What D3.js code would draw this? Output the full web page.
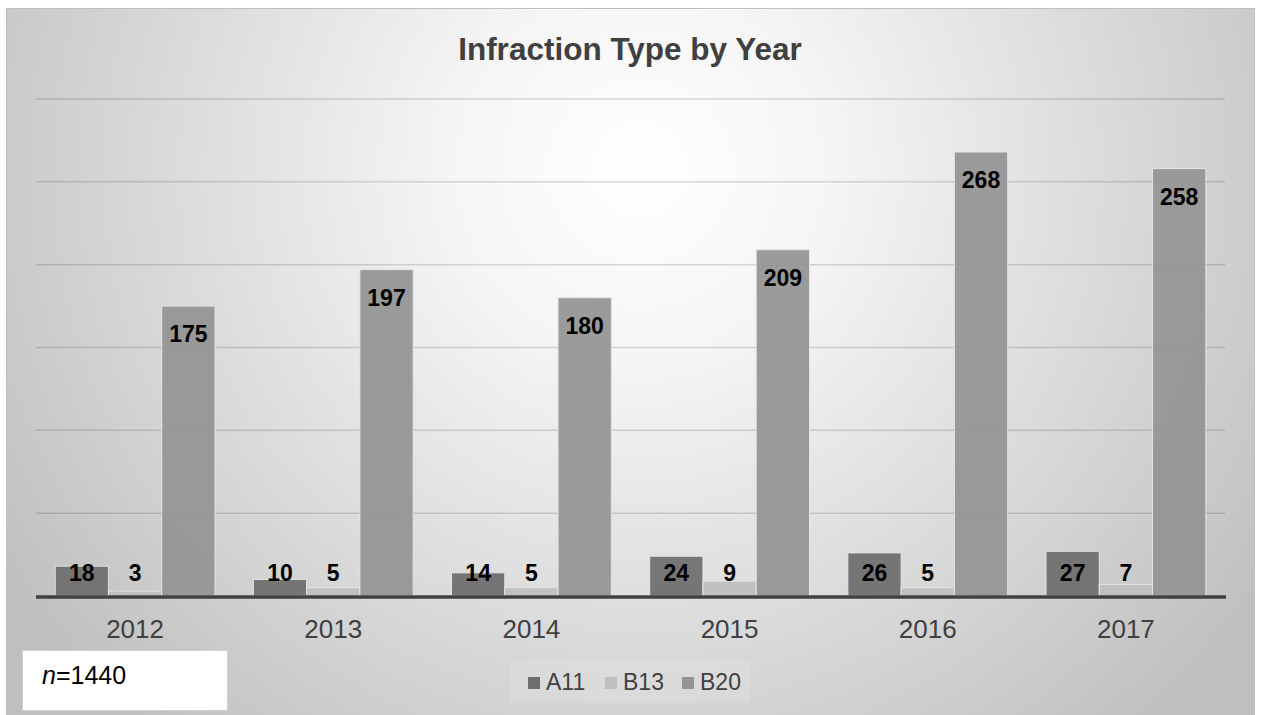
<!DOCTYPE html>
<html>
<head>
<meta charset="utf-8">
<script src="https://cdn.jsdelivr.net/npm/d3@7"></script>
<style>
  body { margin: 0; background: #fff; }
  svg { display: block; font-family: Arial, "Liberation Sans", sans-serif; }
</style>
</head>
<body>
<div id="chartContainer"></div>
<script>
var years = ['2012', '2013', '2014', '2015', '2016', '2017'];
var seriesNames = ['A11', 'B13', 'B20'];
var a11 = [18, 10, 14, 24, 26, 27];
var b13 = [3, 5, 5, 9, 5, 7];
var b20 = [175, 197, 180, 209, 268, 258];
var gridTicks = [50, 100, 150, 200, 250, 300];
var colors = { A11: '#6f6f6f', B13: '#bfbfbf', B20: '#959595' };

var width = 1261;
var height = 715;

var rows = years.map(function (y, i) {
  return { year: y, A11: a11[i], B13: b13[i], B20: b20[i] };
});

var svg = d3.select('#chartContainer').
append('svg').
attr('width', width).
attr('height', height);

// background gradient
var defs = svg.append('defs');
var grad = defs.append('radialGradient').
attr('id', 'bg').
attr('gradientUnits', 'userSpaceOnUse').
attr('cx', 640).attr('cy', 170).attr('r', 760);
grad.append('stop').attr('offset', '0%').attr('stop-color', '#ffffff');
grad.append('stop').attr('offset', '25%').attr('stop-color', '#f5f5f5');
grad.append('stop').attr('offset', '100%').attr('stop-color', '#bfbfbf');

svg.append('rect').
attr('x', 6.5).attr('y', 8.5).
attr('width', 1248).attr('height', 720).
attr('fill', 'url(#bg)').
attr('stroke', '#bfbfbf').
attr('stroke-width', 1);

var x0 = d3.scaleBand().
domain(years).
range([36, 1225]);

var x1 = d3.scaleBand().
domain(seriesNames).
range([0, x0.bandwidth()]).
paddingInner(0).
paddingOuter(0.36);

var yScale = d3.scaleLinear().
domain([0, 300]).
range([596, 99]);

// gridlines
svg.append('g').selectAll('line').
data(gridTicks).
enter().
append('line').
attr('x1', 36).attr('x2', 1225).
attr('y1', function (d) { return yScale(d); }).
attr('y2', function (d) { return yScale(d); }).
attr('stroke', 'rgba(0,0,0,0.14)').
attr('stroke-width', 1.5);

// title
svg.append('text').
attr('x', 630).attr('y', 60).
attr('text-anchor', 'middle').
attr('font-size', 31.5).
attr('font-weight', 'bold').
attr('fill', '#404040').
text('Infraction Type by Year');

// bars
var groups = svg.append('g').selectAll('g').
data(rows).
enter().
append('g').
attr('transform', function (d) { return 'translate(' + x0(d.year) + ',0)'; });

groups.selectAll('rect').
data(function (d) { return seriesNames.map(function (k) { return { key: k, value: d[k] }; }); }).
enter().
append('rect').
attr('x', function (d) { return x1(d.key); }).
attr('y', function (d) { return yScale(d.value); }).
attr('width', x1.bandwidth()).
attr('height', function (d) { return yScale(0) - yScale(d.value); }).
attr('fill', function (d) { return colors[d.key]; }).
attr('fill-opacity', 0.94).
attr('stroke', '#e4e4e4').
attr('stroke-width', 1);

groups.selectAll('text').
data(function (d) { return seriesNames.map(function (k) { return { key: k, value: d[k] }; }); }).
enter().
append('text').
attr('x', function (d) { return x1(d.key) + x1.bandwidth() / 2; }).
attr('y', function (d) { return Math.min(yScale(d.value) + 36, 581); }).
attr('text-anchor', 'middle').
attr('font-size', 23).
attr('font-weight', 'bold').
attr('fill', '#000').
text(function (d) { return d.value; });

// baseline
svg.append('line').
attr('x1', 36).attr('x2', 1226).
attr('y1', 597).attr('y2', 597).
attr('stroke', '#404040').
attr('stroke-width', 3.5);

// category axis
var xAxis = d3.axisBottom(x0).tickSize(0).tickPadding(0);
var xAxisGroup = svg.append('g').
attr('transform', 'translate(0,638)').
call(xAxis);
xAxisGroup.select('.domain').remove();
xAxisGroup.selectAll('text').
attr('dy', 0).
attr('y', 0).
attr('font-size', 26).
attr('font-family', 'Arial, "Liberation Sans", sans-serif').
attr('fill', '#404040');

// legend
svg.append('rect').
attr('x', 510).attr('y', 661).
attr('width', 240).attr('height', 42).
attr('fill', 'rgba(255,255,255,0.12)');

var legendX = [528, 605, 682];
var legend = svg.append('g').selectAll('g').
data(seriesNames).
enter().
append('g').
attr('transform', function (d, i) { return 'translate(' + legendX[i] + ',0)'; });
legend.append('rect').
attr('x', 0).attr('y', 677).
attr('width', 12).attr('height', 12).
attr('fill', function (d) { return colors[d]; });
legend.append('text').
attr('x', 18).attr('y', 690).
attr('font-size', 23).
attr('fill', '#404040').
text(function (d) { return d; });

// n box
svg.append('rect').
attr('x', 22.5).attr('y', 650.5).
attr('width', 205).attr('height', 60).
attr('fill', '#fff').
attr('stroke', '#d0d0d0').
attr('stroke-width', 1);

var nText = svg.append('text').
attr('x', 42).attr('y', 684).
attr('font-size', 25).
attr('font-family', 'Arial, "Liberation Sans", sans-serif').
attr('fill', '#000');
nText.append('tspan').attr('font-style', 'italic').text('n');
nText.append('tspan').text('=1440');
</script>
</body>
</html>
